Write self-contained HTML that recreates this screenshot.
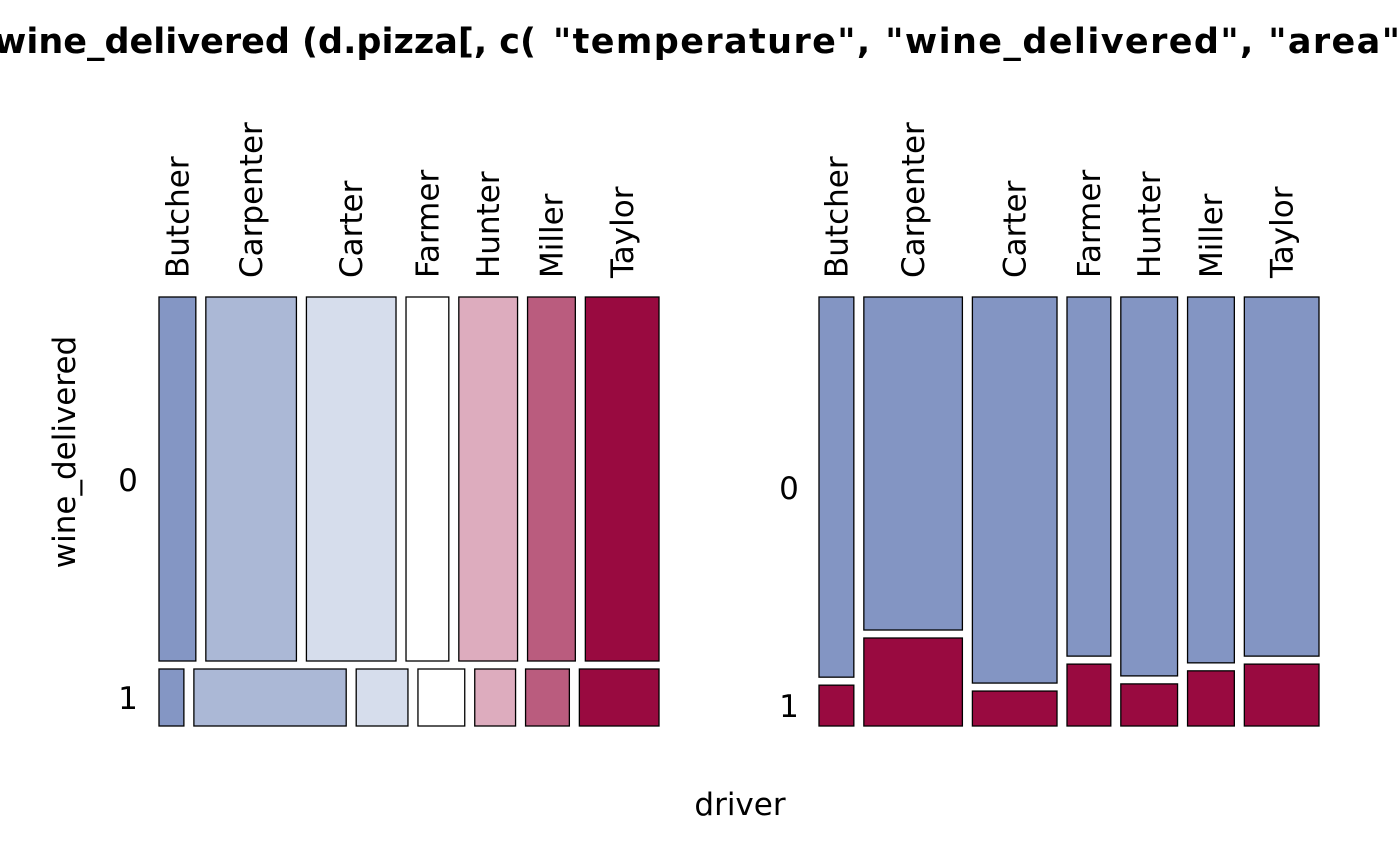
<!DOCTYPE html>
<html><head><meta charset="utf-8"><style>body{margin:0;background:#fff}svg{display:block}</style></head>
<body>
<svg id="c" width="1400" height="866" xmlns="http://www.w3.org/2000/svg" font-family="'DejaVu Sans','Liberation Sans',sans-serif">
<text y="53" font-size="35" font-weight="bold"><tspan x="-6">wine_delivered (d.pizza[, c(</tspan><tspan x="553" letter-spacing="1.4">"temperature", "wine_delivered", "area", "driver")])</tspan></text>
<text x="740" y="815" font-size="31" text-anchor="middle">driver</text>
<text transform="translate(75,452) rotate(-90)" font-size="31" text-anchor="middle">wine_delivered</text>
</svg>
<script>
const drivers=["Butcher","Carpenter","Carter","Farmer","Hunter","Miller","Taylor"];
const leftTopWidths=[37,91,90,43,59,48,74];
const leftBottomWidths=[25,153,52,47,41,44,80];
const leftColors=["#8496c4","#abb8d6","#d6ddec","#ffffff","#ddacbe","#ba5c7e","#990a40"];
const rightWidths=[35,99,85,44,57,47,75];
const rightShare0=[0.903,0.791,0.917,0.853,0.900,0.869,0.853];
const yLevels=["0","1"];
const svgEl=document.getElementById('c');
const NS="http://www.w3.org/2000/svg";
function rect(x,y,w,h,f,name){const r=document.createElementNS(NS,'rect');r.setAttribute('x',x);r.setAttribute('y',y);r.setAttribute('width',w);r.setAttribute('height',h);r.setAttribute('fill',f);r.setAttribute('stroke','#000');r.setAttribute('stroke-width','1.3');


svgEl.appendChild(r);}
function label(x,y,s,rot,name){const t=document.createElementNS(NS,'text');t.setAttribute('font-size','31');t.textContent=s;
if(rot){t.setAttribute('transform',`translate(${x},${y}) rotate(-90)`);}else{t.setAttribute('x',x);t.setAttribute('y',y);t.setAttribute('text-anchor','middle');}


svgEl.appendChild(t);}
const GAP=10,PW=500,TOPY=297,BOTY=726,ROWGAP=8;
function scaleX(ws,x0){const s=ws.reduce((a,b)=>a+b,0);const k=(PW-GAP*(ws.length-1))/s;let x=x0;return ws.map(w=>{const o={x:x,w:w*k};x+=w*k+GAP;return o;});}
const lt=scaleX(leftTopWidths,159), lb=scaleX(leftBottomWidths,159);
const SPLITY=661;
lt.forEach((c,i)=>{rect(c.x,TOPY,c.w,SPLITY-TOPY,leftColors[i],'left-cell-'+drivers[i].toLowerCase()+'-0');label(c.x+c.w/2+11,278,drivers[i],true,'left-label-'+drivers[i].toLowerCase());});
lb.forEach((c,i)=>{rect(c.x,SPLITY+ROWGAP,c.w,BOTY-SPLITY-ROWGAP,leftColors[i],'left-cell-'+drivers[i].toLowerCase()+'-1');});
label(128,491,yLevels[0],false,'left-level-0');label(128,709,yLevels[1],false,'left-level-1');
const rt=scaleX(rightWidths,819);const H=BOTY-TOPY-ROWGAP;
rt.forEach((c,i)=>{const h0=H*rightShare0[i];rect(c.x,TOPY,c.w,h0,'#8395c3','right-cell-'+drivers[i].toLowerCase()+'-0');rect(c.x,TOPY+h0+ROWGAP,c.w,H-h0,'#990a40','right-cell-'+drivers[i].toLowerCase()+'-1');label(c.x+c.w/2+11,278,drivers[i],true,'right-label-'+drivers[i].toLowerCase());});
label(789,499,yLevels[0],false,'right-level-0');label(789,717,yLevels[1],false,'right-level-1');
</script>
</body></html>
